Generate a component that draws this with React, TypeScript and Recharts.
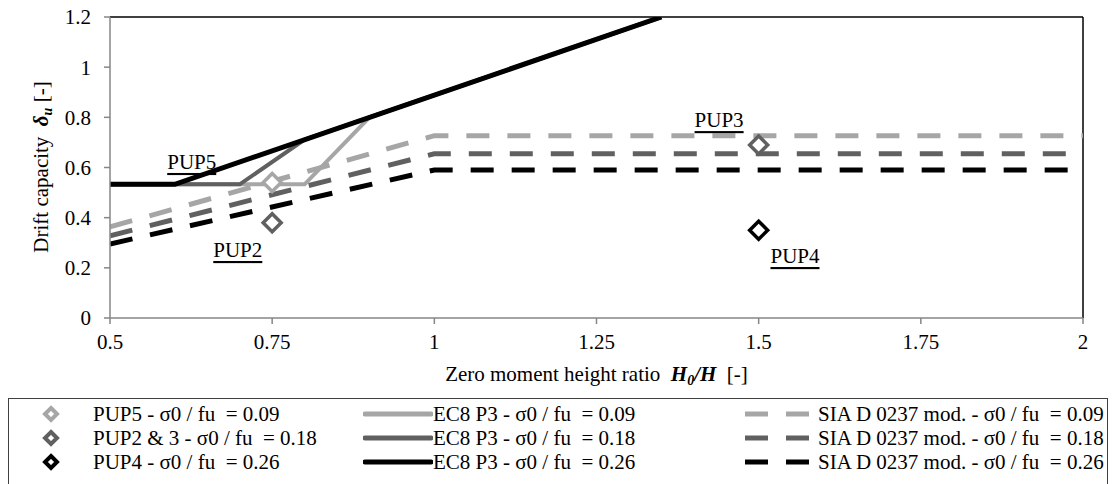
import React from "react";
import {
  ComposedChart,
  Line,
  Scatter,
  XAxis,
  YAxis,
  ReferenceLine,
  ReferenceDot,
} from "recharts";

// EC8 P3 curves (solid)
const ec8Low = [
  { x: 0.5, y: 0.533 },
  { x: 0.8, y: 0.533 },
  { x: 0.9, y: 0.8 },
  { x: 1.35, y: 1.2 },
];
const ec8Mid = [
  { x: 0.5, y: 0.533 },
  { x: 0.7, y: 0.533 },
  { x: 0.8, y: 0.711 },
  { x: 1.35, y: 1.2 },
];
const ec8High = [
  { x: 0.5, y: 0.533 },
  { x: 0.6, y: 0.533 },
  { x: 1.35, y: 1.2 },
];

// SIA D 0237 mod. curves (dashed)
const siaLow = [
  { x: 0.5, y: 0.363 },
  { x: 1, y: 0.727 },
  { x: 2, y: 0.727 },
];
const siaMid = [
  { x: 0.5, y: 0.328 },
  { x: 1, y: 0.655 },
  { x: 2, y: 0.655 },
];
const siaHigh = [
  { x: 0.5, y: 0.295 },
  { x: 1, y: 0.59 },
  { x: 2, y: 0.59 },
];

// test results
const pup5 = [{ x: 0.75, y: 0.54 }];
const pup23 = [
  { x: 0.75, y: 0.38 },
  { x: 1.5, y: 0.69 },
];
const pup4 = [{ x: 1.5, y: 0.35 }];

const tags = [
  { name: "PUP5", x: 0.626, y: 0.622 },
  { name: "PUP2", x: 0.697, y: 0.271 },
  { name: "PUP3", x: 1.439, y: 0.789 },
  { name: "PUP4", x: 1.556, y: 0.247 },
];

const xTicks = [0.5, 0.75, 1, 1.25, 1.5, 1.75, 2];
const yTicks = [0, 0.2, 0.4, 0.6, 0.8, 1, 1.2];

const LIGHT = "#a6a6a6";
const DARK = "#606060";
const BLACK = "#000000";
const AXIS = "#868686";
const FONT = "Liberation Serif";

const legendMarkers = [
  { text: "PUP5 - σ0 / fu  = 0.09", color: LIGHT },
  { text: "PUP2 & 3 - σ0 / fu  = 0.18", color: DARK },
  { text: "PUP4 - σ0 / fu  = 0.26", color: BLACK },
];
const legendEc8 = [
  { text: "EC8 P3 - σ0 / fu  = 0.09", color: LIGHT },
  { text: "EC8 P3 - σ0 / fu  = 0.18", color: DARK },
  { text: "EC8 P3 - σ0 / fu  = 0.26", color: BLACK },
];
const legendSia = [
  { text: "SIA D 0237 mod. - σ0 / fu  = 0.09", color: LIGHT },
  { text: "SIA D 0237 mod. - σ0 / fu  = 0.18", color: DARK },
  { text: "SIA D 0237 mod. - σ0 / fu  = 0.26", color: BLACK },
];

const diamond = (color: string) => (props: any) => {
  const { cx, cy } = props;
  const r = 9;
  return (
    <polygon
      points={`${cx},${cy - r} ${cx + r},${cy} ${cx},${cy + r} ${cx - r},${cy}`}
      fill="#fff"
      stroke={color}
      strokeWidth={3.5}
    />
  );
};

const tagShape = (name: string) => (props: any) => (
  <text
    x={props.cx}
    y={props.cy}
    textAnchor="middle"
    dominantBaseline="central"
    style={{ fontFamily: FONT, fontSize: 21, textDecoration: "underline" }}
    fill="#000"
  >
    {name}
  </text>
);

const XTitle = (props: any) => {
  const vb = props.viewBox;
  const cx = vb.x + vb.width / 2;
  return (
    <text x={cx} y={381} textAnchor="middle" style={{ fontFamily: FONT, fontSize: 21, whiteSpace: "pre" }} fill="#000">
      <tspan>Zero moment height ratio  </tspan>
      <tspan fontWeight="bold" fontStyle="italic">H</tspan>
      <tspan fontWeight="bold" fontStyle="italic" fontSize={14} dy={4}>0</tspan>
      <tspan fontWeight="bold" fontStyle="italic" dy={-4}>/H</tspan>
      <tspan>  [-]</tspan>
    </text>
  );
};

const YTitle = () => (
  <text
    x={0}
    y={0}
    transform="translate(48,167) rotate(-90)"
    textAnchor="middle"
    style={{ fontFamily: FONT, fontSize: 21, whiteSpace: "pre" }}
    fill="#000"
  >
    <tspan>Drift capacity  </tspan>
    <tspan fontWeight="bold" fontStyle="italic">δ</tspan>
    <tspan fontWeight="bold" fontStyle="italic" fontSize={14} dy={4}>u</tspan>
    <tspan dy={-4}> [-]</tspan>
  </text>
);

const rowStyle: React.CSSProperties = {
  position: "absolute",
  fontSize: 21,
  lineHeight: "24px",
  whiteSpace: "pre",
  color: "#000",
};

const Legend = () => (
  <div
    style={{
      position: "absolute",
      left: 8,
      top: 398,
      width: 1100,
      height: 90,
      border: "1.5px solid #404040",
      boxSizing: "border-box",
      fontFamily: FONT,
    }}
  >
    {legendMarkers.map((d, i) => (
      <div key={d.text}>
        <svg style={{ position: "absolute", left: 32, top: 5 + i * 24 }} width={20} height={20}>
          <polygon points="10,4 16,10 10,16 4,10" fill="#fff" stroke={d.color} strokeWidth={4} />
        </svg>
        <div style={{ ...rowStyle, left: 84, top: 3 + i * 24 }}>{d.text}</div>
      </div>
    ))}
    {legendEc8.map((d, i) => (
      <div key={d.text}>
        <svg style={{ position: "absolute", left: 354, top: 5 + i * 24 }} width={70} height={20}>
          <line x1={2} y1={10} x2={68} y2={10} stroke={d.color} strokeWidth={5} strokeLinecap="round" />
        </svg>
        <div style={{ ...rowStyle, left: 424, top: 3 + i * 24 }}>{d.text}</div>
      </div>
    ))}
    {legendSia.map((d, i) => (
      <div key={d.text}>
        <svg style={{ position: "absolute", left: 736, top: 5 + i * 24 }} width={72} height={20}>
          <line x1={0} y1={10} x2={72} y2={10} stroke={d.color} strokeWidth={5} strokeDasharray="23 18" />
        </svg>
        <div style={{ ...rowStyle, left: 809, top: 3 + i * 24 }}>{d.text}</div>
      </div>
    ))}
  </div>
);

export default function App() {
  return (
    <div style={{ position: "absolute", left: 0, top: 0, width: 1117, height: 484, background: "#fff", fontFamily: FONT }}>
      <ComposedChart width={1117} height={398} margin={{ top: 17, right: 34, left: 0, bottom: 0 }} style={{ fontFamily: FONT }}>
        <XAxis
          type="number"
          dataKey="x"
          domain={[0.5, 2]}
          ticks={xTicks}
          allowDataOverflow
          height={80}
          stroke={AXIS}
          strokeWidth={1.5}
          tickSize={6}
          tickMargin={10}
          tick={{ fill: "#000", fontSize: 21, style: { fontFamily: FONT } }}
          label={XTitle}
        />
        <YAxis
          type="number"
          dataKey="y"
          domain={[0, 1.2]}
          ticks={yTicks}
          allowDataOverflow
          width={110}
          stroke={AXIS}
          strokeWidth={1.5}
          tickSize={6}
          tickMargin={13}
          tick={{ fill: "#000", fontSize: 21, style: { fontFamily: FONT } }}
          label={YTitle}
        />
        <ReferenceLine y={1.2} stroke="#000" strokeWidth={1.5} />
        <ReferenceLine x={2} stroke="#000" strokeWidth={1.5} />

        <Line data={siaLow} dataKey="y" stroke={LIGHT} strokeWidth={5} strokeDasharray="23 18" dot={false} isAnimationActive={false} />
        <Line data={siaMid} dataKey="y" stroke={DARK} strokeWidth={5} strokeDasharray="23 18" dot={false} isAnimationActive={false} />
        <Line data={siaHigh} dataKey="y" stroke={BLACK} strokeWidth={5} strokeDasharray="23 18" dot={false} isAnimationActive={false} />

        <Line data={ec8Low} dataKey="y" stroke={LIGHT} strokeWidth={4} dot={false} isAnimationActive={false} />
        <Line data={ec8Mid} dataKey="y" stroke={DARK} strokeWidth={4} dot={false} isAnimationActive={false} />
        <Line data={ec8High} dataKey="y" stroke={BLACK} strokeWidth={5} dot={false} isAnimationActive={false} />

        <Scatter data={pup5} dataKey="y" shape={diamond(LIGHT)} isAnimationActive={false} />
        <Scatter data={pup23} dataKey="y" shape={diamond(DARK)} isAnimationActive={false} />
        <Scatter data={pup4} dataKey="y" shape={diamond(BLACK)} isAnimationActive={false} />

        {tags.map((t) => (
          <ReferenceDot key={t.name} x={t.x} y={t.y} r={1} shape={tagShape(t.name)} />
        ))}
      </ComposedChart>
      <Legend />
    </div>
  );
}
